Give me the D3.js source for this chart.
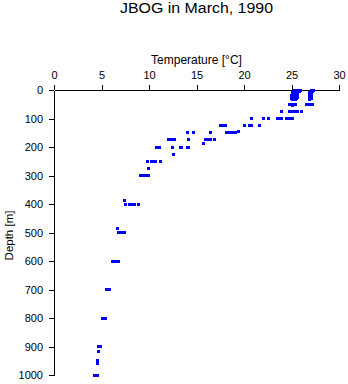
<!DOCTYPE html>
<html>
<head>
<meta charset="utf-8">
<script src="https://cdn.jsdelivr.net/npm/d3@7"></script>
<style>
  html, body { margin: 0; padding: 0; background: #fff; }
  svg { display: block; }
  text { font-family: "Liberation Sans", Arial, sans-serif; fill: #000; }
</style>
</head>
<body>
<script>
// Temperature profile samples, grouped by depth level (m -> °C readings)
const depths = [
  0, 5, 10, 15, 20, 25, 30, 35,
  50, 55, 75, 100, 125, 145, 150, 175, 187,
  200, 226, 250, 275, 300, 388, 400, 485, 500,
  600, 700, 800, 803, 900, 919, 948, 958, 1000
];
const temperatures = [
  [25.3, 25.5, 25.7, 25.9, 27.1, 27.3],
  [25.2, 25.5, 25.8, 27.0, 27.2],
  [25.1, 25.3, 25.5, 26.9, 27.1],
  [25.1, 25.4, 25.6, 27.0],
  [25.0, 25.3, 25.5, 26.9, 27.1],
  [25.1, 25.4, 25.6, 26.9],
  [25.0, 25.3, 25.5, 26.9, 27.1],
  [25.1, 25.4, 26.9],
  [24.8, 25.0, 25.2, 25.4, 26.6, 26.8, 27.0, 27.2],
  [25.1],
  [23.9, 24.8, 25.0, 25.2, 25.4, 25.6, 26.0],
  [20.8, 22.0, 22.6, 23.5, 23.7, 23.9, 24.5, 24.7, 24.9, 25.1],
  [17.5, 17.7, 18.0, 20.0, 20.6, 20.8, 21.6],
  [19.4],
  [14.0, 14.7, 16.5, 18.2, 18.5, 18.8, 19.1],
  [12.1, 12.4, 12.7, 14.2, 15.9, 16.2, 16.5, 16.9],
  [15.7],
  [10.8, 11.1, 12.5, 13.3, 13.4, 14.0, 14.2],
  [12.6],
  [9.85, 10.25, 10.45, 10.65, 11.2],
  [9.9],
  [9.1, 9.3, 9.5, 9.7, 9.95],
  [7.4],
  [7.5, 7.9, 8.2, 8.5, 8.9],
  [6.7],
  [6.8, 7.0, 7.2, 7.4],
  [6.2, 6.4, 6.6, 6.8],
  [5.5, 5.65, 5.8],
  [5.1, 5.25, 5.4],
  [5.2],
  [4.7, 4.85],
  [4.66],
  [4.56],
  [4.56],
  [4.3, 4.45, 4.55]
];
const tempTicks = [0, 5, 10, 15, 20, 25, 30];
const depthTicks = [0, 100, 200, 300, 400, 500, 600, 700, 800, 900, 1000];

const W = 348, H = 384;
const margin = { top: 90, right: 9, bottom: 9, left: 54 };

const svg = d3.select("body").append("svg")
  .attr("width", W).attr("height", H);

const x = d3.scaleLinear().domain([0, 30]).range([margin.left, W - margin.right]);
const y = d3.scaleLinear().domain([0, 1000]).range([margin.top, H - margin.bottom]);

const points = depths.flatMap((d, i) => temperatures[i].map(t => ({ t, d })));

// Title and axis titles
svg.append("text")
  .attr("x", (x(0) + x(30)) / 2).attr("y", 13)
  .attr("text-anchor", "middle")
  .style("font-size", "14px")
  .attr("textLength", 153).attr("lengthAdjust", "spacingAndGlyphs")
  .text("JBOG in March, 1990");

svg.append("text")
  .attr("x", (x(0) + x(30)) / 2).attr("y", 64)
  .attr("text-anchor", "middle")
  .style("font-size", "12px")
  .text("Temperature [°C]");

svg.append("text")
  .attr("transform", `translate(13,${(y(0) + y(1000)) / 2 + 3}) rotate(-90)`)
  .attr("text-anchor", "middle")
  .style("font-size", "11.5px")
  .text("Depth [m]");

// Axes
const xAxis = svg.append("g")
  .attr("transform", `translate(0,${y(0)})`)
  .call(d3.axisTop(x).tickValues(tempTicks).tickFormat(d3.format("d"))
    .tickSize(5).tickSizeOuter(0).tickPadding(6));

const yAxis = svg.append("g")
  .attr("transform", `translate(${x(0)},0)`)
  .call(d3.axisLeft(y).tickValues(depthTicks).tickFormat(d3.format("d"))
    .tickSize(5).tickSizeOuter(0).tickPadding(6));

[xAxis, yAxis].forEach(g => {
  g.selectAll("text").style("font-size", "11px").style("font-family", '"Liberation Sans", Arial, sans-serif');
  g.selectAll("path, line").attr("stroke", "#000").attr("stroke-width", 1).attr("shape-rendering", "crispEdges");
});

// Sample markers
svg.append("g")
  .selectAll("rect")
  .data(points)
  .join("rect")
  .attr("x", p => x(p.t) - 1.5)
  .attr("y", p => y(p.d) - 1.5)
  .attr("width", 3)
  .attr("height", 3)
  .attr("fill", "#0000ff")
  .attr("shape-rendering", "crispEdges");
</script>
</body>
</html>
